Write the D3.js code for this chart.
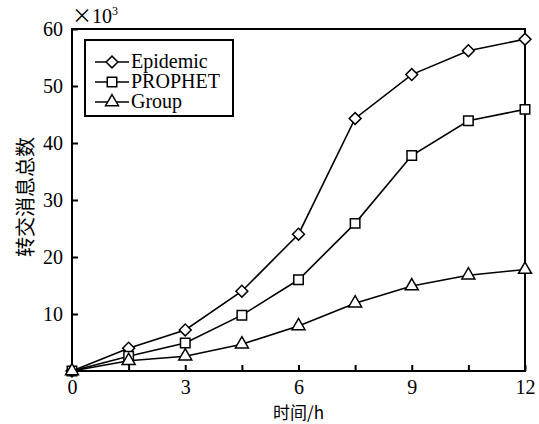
<!DOCTYPE html>
<html>
<head>
<meta charset="utf-8">
<script src="https://cdn.jsdelivr.net/npm/d3@7"></script>
<style>
  body { margin: 0; background: #fff; }
  text { font-family: "Liberation Serif", "Times New Roman", serif; fill: #000; }
  .cjk { font-family: "Noto Sans CJK SC", sans-serif; }
</style>
</head>
<body>
<div id="chart"></div>
<script>
// data (values in units of 10^3)
var hours = [0, 1.5, 3, 4.5, 6, 7.5, 9, 10.5, 12];
var epidemic = [0, 4.0, 7.2, 14.0, 24.0, 44.3, 52.0, 56.2, 58.2];
var prophet = [0, 2.6, 4.9, 9.8, 16.0, 25.9, 37.8, 43.9, 45.9];
var group = [0, 1.8, 2.6, 4.7, 7.9, 11.9, 14.9, 16.8, 17.8];
var seriesNames = ["Epidemic", "PROPHET", "Group"];
var xTicks = [0, 1.5, 3, 4.5, 6, 7.5, 9, 10.5, 12];
var yTicks = [0, 10, 20, 30, 40, 50, 60];

var W = 539, H = 424;
var margin = {top: 29, right: 14, bottom: 53, left: 72};
var serif = '"Liberation Serif", "Times New Roman", serif';

var svg = d3.select("#chart").append("svg")
  .attr("width", W)
  .attr("height", H)
  .attr("xmlns", "http://www.w3.org/2000/svg");

svg.append("rect").attr("width", W).attr("height", H).attr("fill", "#fff");

var x = d3.scaleLinear().domain([0, 12]).range([margin.left, W - margin.right]);
var y = d3.scaleLinear().domain([0, 60]).range([H - margin.bottom, margin.top]);

// frame
svg.append("rect")
  .attr("x", x(0)).attr("y", y(60))
  .attr("width", x(12) - x(0)).attr("height", y(0) - y(60))
  .attr("fill", "none").attr("stroke", "#000").attr("stroke-width", 2);

// bottom axis, ticks point inward
var xAxis = svg.append("g")
  .attr("transform", "translate(0," + y(0) + ")")
  .call(d3.axisBottom(x).tickValues(xTicks).tickSize(-6).tickPadding(9)
    .tickFormat(function(d) { return d % 3 === 0 ? d : ""; }));
xAxis.select(".domain").remove();
xAxis.selectAll("line").attr("stroke-width", 2);
xAxis.attr("font-family", null).attr("font-size", null);
xAxis.selectAll("text").style("font-family", serif).style("font-size", "20px");

// left axis
var yAxis = svg.append("g")
  .attr("transform", "translate(" + x(0) + ",0)")
  .call(d3.axisLeft(y).tickValues(yTicks).tickSize(-6).tickPadding(9)
    .tickFormat(function(d) { return d === 0 ? "" : d; }));
yAxis.select(".domain").remove();
yAxis.selectAll("line").attr("stroke-width", 2);
yAxis.attr("font-family", null).attr("font-size", null);
yAxis.selectAll("text").style("font-family", serif).style("font-size", "20px");

// x10^3 note
var note = svg.append("text").attr("x", x(0)).attr("y", 23).style("font-size", "20px");
note.append("tspan").attr("class", "cjk").style("font-size", "20px").text("\u00d7");
note.append("tspan").text("10");
note.append("tspan").style("font-size", "12px").attr("dy", -8).text("3");

// axis titles
svg.append("text").attr("class", "cjk")
  .attr("x", x(6)).attr("y", 419)
  .attr("text-anchor", "middle").style("font-size", "17px")
  .text("时间/h");

svg.append("text").attr("class", "cjk")
  .attr("transform", "translate(33,197) rotate(-90)")
  .attr("text-anchor", "middle").style("font-size", "20px")
  .text("转交消息总数");

// markers
var symDiamond = d3.symbol().type(d3.symbolSquare).size(70);
var symSquare = d3.symbol().type(d3.symbolSquare).size(90);
var symTriangle = d3.symbol().type(d3.symbolTriangle).size(73);
var markers = [
  {path: symDiamond(), rot: 45},
  {path: symSquare(), rot: 0},
  {path: symTriangle(), rot: 0}
];

var allSeries = [epidemic, prophet, group];

var line = d3.line()
  .x(function(d, i) { return x(hours[i]); })
  .y(function(d) { return y(d); });

allSeries.forEach(function(vals) {
  svg.append("path")
    .attr("d", line(vals))
    .attr("fill", "none").attr("stroke", "#000").attr("stroke-width", 1.6);
});

allSeries.forEach(function(vals, k) {
  svg.append("g").selectAll("path")
    .data(vals)
    .join("path")
    .attr("d", markers[k].path)
    .attr("transform", function(d, i) {
      return "translate(" + x(hours[i]) + "," + y(d) + ") rotate(" + markers[k].rot + ")";
    })
    .attr("fill", "#fff").attr("stroke", "#000").attr("stroke-width", 1.5);
});

// legend
var lg = svg.append("g");
lg.append("rect")
  .attr("x", 85).attr("y", 40).attr("width", 148).attr("height", 76)
  .attr("fill", "#fff").attr("stroke", "#000").attr("stroke-width", 2);

seriesNames.forEach(function(name, k) {
  var ly = 62 + k * 20;
  lg.append("line")
    .attr("x1", 95).attr("x2", 129).attr("y1", ly).attr("y2", ly)
    .attr("stroke", "#000").attr("stroke-width", 1.6);
  lg.append("path")
    .attr("d", markers[k].path)
    .attr("transform", "translate(112," + ly + ") rotate(" + markers[k].rot + ")")
    .attr("fill", "#fff").attr("stroke", "#000").attr("stroke-width", 1.5);
  lg.append("text")
    .attr("x", 131).attr("y", ly + 6)
    .style("font-size", "20px")
    .text(name);
});
</script>
</body>
</html>
